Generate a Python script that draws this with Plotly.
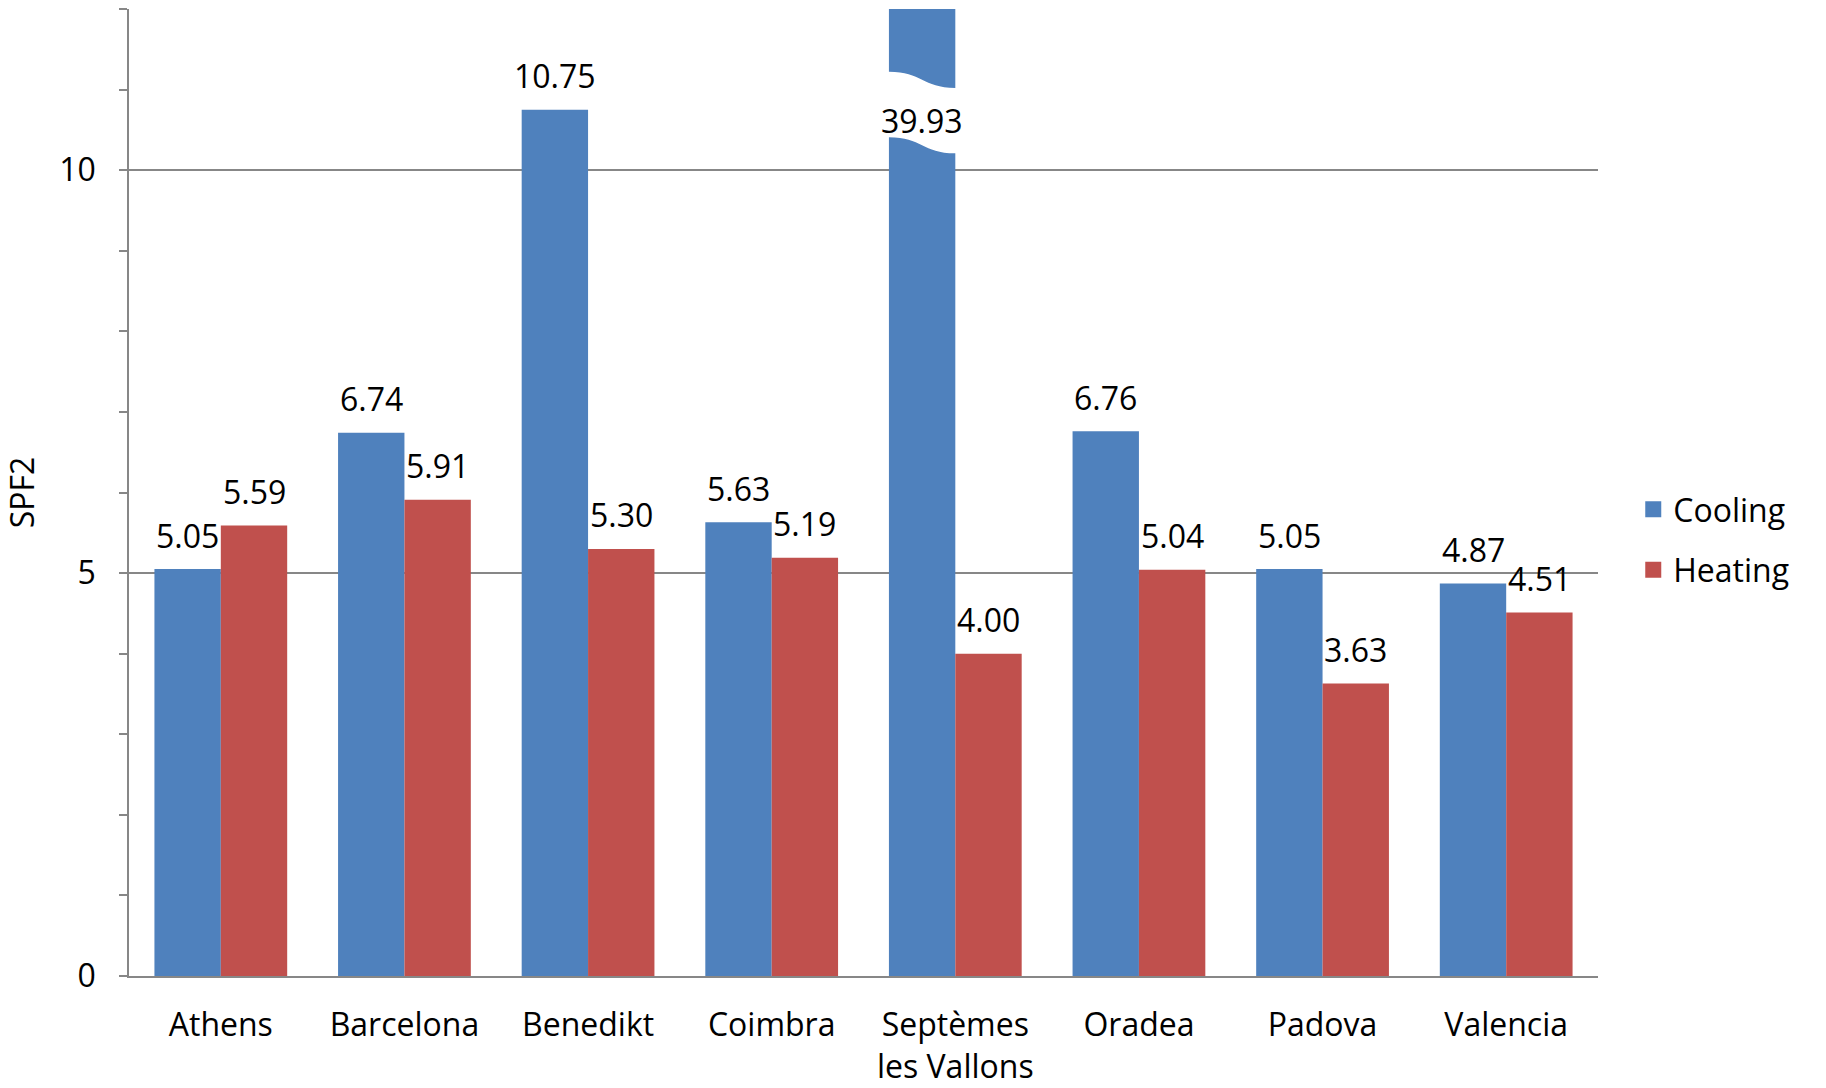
import plotly.graph_objects as go

# Seasonal performance factor (SPF2) per city
cities = ["Athens", "Barcelona", "Benedikt", "Coimbra", "Septèmes les Vallons",
          "Oradea", "Padova", "Valencia"]
tick_labels = ["Athens", "Barcelona", "Benedikt", "Coimbra", "Septèmes<br>les Vallons",
               "Oradea", "Padova", "Valencia"]
cooling = [5.05, 6.74, 10.75, 5.63, 39.93, 6.76, 5.05, 4.87]
heating = [5.59, 5.91, 5.30, 5.19, 4.00, 5.04, 3.63, 4.51]

BLUE = "#4F81BD"
RED = "#C0504D"
GREY = "#878787"
FONT = "Open Sans"
FS = 32

Y_MAX = 12          # visible top of the value axis
BARGAP = 0.277
BAR_W = (1 - BARGAP) / 2   # width of one bar in category units

# wavy break drawn across bars that run past the top of the axis
BREAK_TOP = (11.22, 11.02)
BREAK_BOT = (10.41, 10.21)
BREAK_LABEL_Y = 10.6

fig = go.Figure()
fig.add_trace(go.Bar(x=cities, y=cooling, name="Cooling", marker_color=BLUE,
                     marker_line_width=0, showlegend=False))
fig.add_trace(go.Bar(x=cities, y=heating, name="Heating", marker_color=RED,
                     marker_line_width=0, showlegend=False))

# legend entries with larger square swatches
fig.add_trace(go.Scatter(x=[None], y=[None], mode="markers", name="Cooling",
                         legendgroup="c",
                         marker=dict(symbol="square", size=21, color=BLUE)))
fig.add_trace(go.Scatter(x=[None], y=[None], mode="markers", name="Heating",
                         legendgroup="h",
                         marker=dict(symbol="square", size=21, color=RED)))

annotations = []
shapes = []
for series, offset in ((cooling, -BAR_W / 2), (heating, BAR_W / 2)):
    for i, v in enumerate(series):
        xc = i + offset
        if v > Y_MAX:
            xl, xr = xc - BAR_W / 2, xc + BAR_W / 2
            xm = xc
            e = 0.04
            path = (f"M {xl - e},{BREAK_TOP[0]} L {xl},{BREAK_TOP[0]} "
                    f"C {xm},{BREAK_TOP[0]} {xm},{BREAK_TOP[1]} {xr},{BREAK_TOP[1]} "
                    f"L {xr + e},{BREAK_TOP[1]} L {xr + e},{BREAK_BOT[1]} L {xr},{BREAK_BOT[1]} "
                    f"C {xm},{BREAK_BOT[1]} {xm},{BREAK_BOT[0]} {xl},{BREAK_BOT[0]} "
                    f"L {xl - e},{BREAK_BOT[0]} Z")
            shapes.append(dict(type="path", path=path, xref="x", yref="y",
                               fillcolor="white", line=dict(width=0), layer="above"))
            annotations.append(dict(x=xc, y=BREAK_LABEL_Y, xref="x", yref="y",
                                    text=f"{v:.2f}", showarrow=False,
                                    yanchor="middle", yshift=1,
                                    font=dict(family=FONT, size=FS, color="black")))
        else:
            annotations.append(dict(x=xc, y=v, xref="x", yref="y",
                                    text=f"{v:.2f}", showarrow=False,
                                    yanchor="middle", yshift=34,
                                    font=dict(family=FONT, size=FS, color="black")))

fig.update_layout(
    width=1826, height=1088,
    margin=dict(l=129, r=228, t=9, b=112),
    paper_bgcolor="white", plot_bgcolor="white",
    barmode="group", bargap=BARGAP, bargroupgap=0,
    font=dict(family=FONT, size=FS, color="black"),
    annotations=annotations,
    shapes=shapes,
    legend=dict(x=1.024, xanchor="left", y=0.451, yanchor="middle",
                font=dict(family=FONT, size=FS, color="black"),
                traceorder="grouped", tracegroupgap=16,
                bgcolor="rgba(0,0,0,0)"),
    xaxis=dict(
        type="category", automargin=False,
        tickmode="array", tickvals=cities, ticktext=tick_labels,
        showline=True, linecolor=GREY, linewidth=1.5,
        ticks="", showgrid=False, zeroline=False,
        tickfont=dict(family=FONT, size=FS, color="black"),
        ticklabelstandoff=20,
    ),
    yaxis=dict(
        range=[0, Y_MAX], automargin=False,
        tickmode="linear", tick0=0, dtick=5,
        ticks="outside", ticklen=8, tickwidth=1.5, tickcolor=GREY,
        showline=True, linecolor=GREY, linewidth=1.5,
        showgrid=True, gridcolor=GREY, gridwidth=1.5,
        zeroline=False,
        minor=dict(dtick=1, ticks="outside", ticklen=8, tickwidth=1.5,
                   tickcolor=GREY, showgrid=False),
        tickfont=dict(family=FONT, size=FS, color="black"),
        ticklabelstandoff=17,
        title=dict(text="SPF2", standoff=16,
                   font=dict(family=FONT, size=FS, color="black")),
    ),
)

fig.write_html("out.html")
